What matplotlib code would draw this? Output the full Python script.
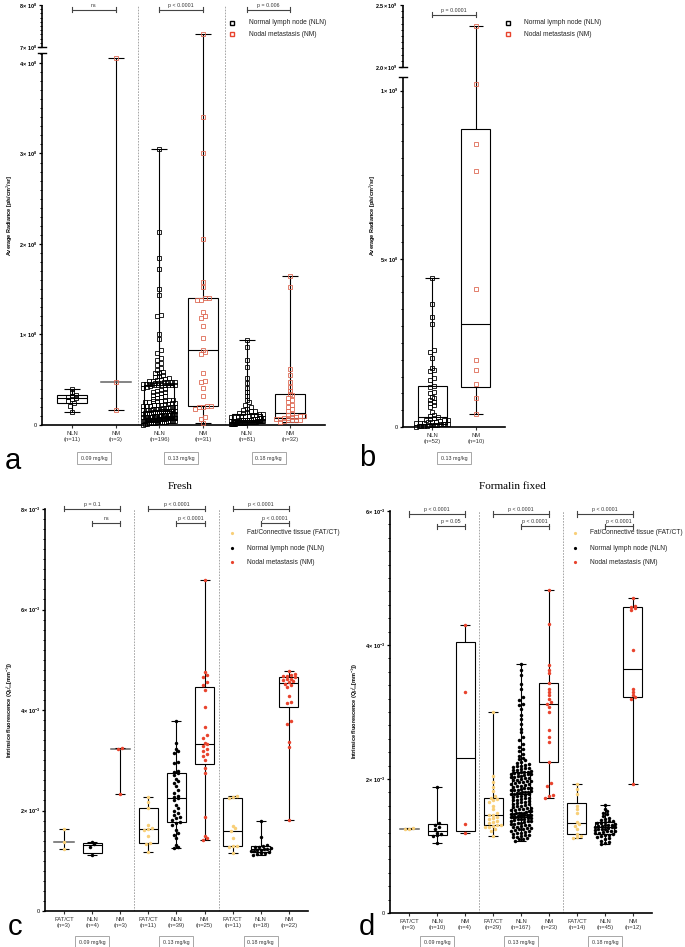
# box + scatter plots of radiance / intrinsic fluorescence per dose group (panels a-d)

import numpy as np
import matplotlib
matplotlib.use('Agg')
from matplotlib import pyplot as plt
from matplotlib.lines import Line2D
from matplotlib.patches import Rectangle

plt.rcParams['font.family'] = ['Liberation Sans', 'DejaVu Sans']
plt.rcParams['mathtext.fontset'] = 'custom'
plt.rcParams['mathtext.rm'] = 'Liberation Sans'
plt.rcParams['mathtext.it'] = 'Liberation Sans:italic'
plt.rcParams['mathtext.bf'] = 'Liberation Sans:bold'

# ***************************** panel a data (x 1e8 p/s/cm2/sr) *****************************
a_nln_009 = [0.14, 0.21, 0.24, 0.27, 0.29, 0.30, 0.31, 0.32, 0.33, 0.36, 0.40]
a_nm_009 = [0.17, 0.47, 4.06]
a_nln_013 = [3.05, 2.13, 1.84, 1.72, 1.50, 1.44, 1.22, 1.20, 1.00, 0.95,
             0.83, 0.80, 0.74, 0.72, 0.69, 0.66, 0.63, 0.61, 0.59, 0.58,
             0.57, 0.55, 0.54, 0.53, 0.52, 0.51, 0.50, 0.50, 0.49, 0.49,
             0.48, 0.48, 0.47, 0.47, 0.47, 0.46, 0.46, 0.46, 0.45, 0.45,
             0.45, 0.45, 0.44, 0.44, 0.44, 0.44, 0.44, 0.44, 0.44,
             0.43, 0.42, 0.41, 0.40, 0.39, 0.38, 0.37, 0.36, 0.35, 0.34,
             0.33, 0.32, 0.31, 0.30, 0.29, 0.28, 0.28, 0.27, 0.27, 0.26,
             0.26, 0.25, 0.25, 0.24, 0.24, 0.23, 0.23, 0.22, 0.22, 0.22,
             0.21, 0.21, 0.21, 0.20, 0.20, 0.20, 0.19, 0.19, 0.19, 0.18,
             0.18, 0.18, 0.18, 0.17, 0.17, 0.17, 0.17, 0.16, 0.16,
             0.16, 0.16, 0.155, 0.15, 0.15, 0.15, 0.145, 0.14, 0.14, 0.14,
             0.135, 0.13, 0.13, 0.13, 0.125, 0.12, 0.12, 0.12, 0.12, 0.115,
             0.11, 0.11, 0.11, 0.11, 0.105, 0.10, 0.10, 0.10, 0.10, 0.10,
             0.095, 0.095, 0.09, 0.09, 0.09, 0.09, 0.09, 0.085, 0.085, 0.085,
             0.085, 0.08, 0.08, 0.08, 0.08, 0.08, 0.08, 0.08, 0.08,
             0.075, 0.075, 0.075, 0.075, 0.07, 0.07, 0.07, 0.07, 0.07, 0.065,
             0.065, 0.065, 0.065, 0.06, 0.06, 0.06, 0.06, 0.06, 0.055, 0.055,
             0.055, 0.055, 0.05, 0.05, 0.05, 0.05, 0.05, 0.045, 0.045, 0.045,
             0.045, 0.04, 0.04, 0.04, 0.04, 0.04, 0.035, 0.035, 0.035, 0.03,
             0.03, 0.03, 0.025, 0.025, 0.02, 0.02, 0.015, 0.01, 0.005]
a_nm_013 = [7.30, 3.40, 3.00, 2.05, 1.58, 1.53, 1.40, 1.40, 1.38, 1.38,
            1.25, 1.20, 1.18, 1.09, 0.96, 0.83, 0.81, 0.78, 0.58, 0.49,
            0.47, 0.41, 0.32, 0.21, 0.21, 0.20, 0.20, 0.18, 0.09, 0.07, 0.02]
a_nln_018 = [0.94, 0.86, 0.72, 0.64, 0.52, 0.46, 0.41, 0.36, 0.32, 0.28,
             0.25, 0.22, 0.20, 0.18, 0.17, 0.16, 0.15, 0.14, 0.13, 0.13,
             0.12, 0.12, 0.11, 0.11, 0.10, 0.10, 0.095, 0.09, 0.09, 0.085,
             0.08, 0.08, 0.075, 0.07, 0.07, 0.065, 0.06, 0.06, 0.055, 0.055,
             0.05,
             0.05, 0.05, 0.048, 0.047, 0.046, 0.045, 0.044, 0.043, 0.042, 0.041,
             0.04, 0.04, 0.039, 0.038, 0.037, 0.036, 0.035, 0.034, 0.032, 0.031,
             0.03, 0.03, 0.029, 0.028, 0.027, 0.026, 0.025, 0.024, 0.023, 0.022,
             0.021, 0.02, 0.019, 0.018, 0.017, 0.016, 0.015, 0.013, 0.011, 0.009]
a_nm_018 = [1.65, 1.52, 0.62, 0.55, 0.48, 0.42, 0.38, 0.34, 0.33, 0.30,
            0.28, 0.25, 0.22, 0.20, 0.18, 0.15, 0.12, 0.11, 0.10, 0.10,
            0.09, 0.09, 0.08, 0.08, 0.07, 0.07, 0.06, 0.06, 0.05, 0.05,
            0.04, 0.03]
a_labels = ['NLN\n(n=11)', 'NM\n(n=3)', 'NLN\n(n=196)', 'NM\n(n=31)', 'NLN\n(n=81)', 'NM\n(n=32)']

# ***************************** panel b data (x 1e9) *****************************
b_nln = [0.443, 0.366, 0.327, 0.307, 0.229, 0.224, 0.206, 0.176, 0.17, 0.165,
         0.146, 0.14, 0.122, 0.118, 0.105, 0.10, 0.09, 0.085, 0.08, 0.075,
         0.07, 0.065, 0.06, 0.045, 0.035, 0.032, 0.03, 0.028, 0.025, 0.022,
         0.02, 0.02, 0.018, 0.016, 0.015, 0.014, 0.013, 0.012, 0.011, 0.01,
         0.01, 0.009, 0.008, 0.007, 0.006, 0.006, 0.005, 0.004, 0.004, 0.003,
         0.002, 0.001]
b_nm = [2.33, 1.02, 0.84, 0.76, 0.41, 0.20, 0.17, 0.128, 0.086, 0.039]
b_labels = ['NLN\n(n=52)', 'NM\n(n=10)']

# ***************************** panel c data, fresh (x 1e-3) *****************************
c_fat_009 = [1.23, 1.38, 1.64]
c_nln_009 = [1.11, 1.28, 1.33, 1.37]
c_nm_009 = [2.33, 3.22, 3.25]
c_fat_013 = [1.17, 1.33, 1.35, 1.50, 1.61, 1.63, 1.65, 1.71, 2.05, 2.17, 2.27]
c_nln_013 = [3.78, 3.35, 3.22, 3.18, 3.15, 2.97, 2.95, 2.78, 2.77, 2.75,
             2.70, 2.62, 2.58, 2.55, 2.48, 2.40, 2.35, 2.28, 2.27, 2.25,
             2.20, 2.10, 2.05, 2.00, 1.95, 1.92, 1.88, 1.85, 1.82, 1.78,
             1.75, 1.72, 1.62, 1.55, 1.52, 1.45, 1.32, 1.28, 1.25]
c_nm_013 = [6.58, 4.75, 4.70, 4.65, 4.55, 4.50, 4.40, 4.06, 3.66, 3.50,
            3.45, 3.35, 3.32, 3.28, 3.22, 3.18, 3.12, 3.08, 3.00, 2.85,
            2.74, 1.87, 1.50, 1.45, 1.42]
c_fat_018 = [1.15, 1.28, 1.29, 1.30, 1.45, 1.60, 1.65, 1.70, 2.25, 2.27, 2.29]
c_nln_018 = [1.12, 1.14, 1.15, 1.16, 1.18, 1.19, 1.20, 1.21, 1.22, 1.23,
             1.24, 1.25, 1.27, 1.28, 1.30, 1.32, 1.47, 1.79]
c_nm_018 = [4.77, 4.72, 4.70, 4.68, 4.67, 4.65, 4.62, 4.62, 4.60, 4.58,
            4.55, 4.52, 4.50, 4.45, 4.27, 4.16, 4.14, 3.78, 3.73, 3.36,
            3.27, 1.81]
c_labels = ['FAT/CT\n(n=3)', 'NLN\n(n=4)', 'NM\n(n=3)', 'FAT/CT\n(n=11)', 'NLN\n(n=39)',
            'NM\n(n=25)', 'FAT/CT\n(n=11)', 'NLN\n(n=18)', 'NM\n(n=22)']

# ***************************** panel d data, formalin fixed (x 1e-3) *****************************
d_fat_009 = [1.25, 1.26, 1.27]
d_nln_009 = [1.05, 1.15, 1.17, 1.18, 1.20, 1.25, 1.28, 1.32, 1.34, 1.88]
d_nm_009 = [1.19, 1.33, 3.30, 4.30]
d_fat_013 = [3.00, 2.04, 1.95, 1.88, 1.82, 1.75, 1.72, 1.70, 1.68, 1.66,
             1.60, 1.55, 1.50, 1.47, 1.46, 1.44, 1.42, 1.40, 1.38, 1.36,
             1.34, 1.32, 1.31, 1.30, 1.29, 1.28, 1.25, 1.22, 1.15]
d_nln_013 = [3.72, 3.62, 3.55, 3.42, 3.35, 3.22, 3.18, 3.12, 3.10, 3.05,
             2.95, 2.90, 2.82, 2.75, 2.70, 2.62, 2.58, 2.52, 2.48, 2.45,
             2.42, 2.38, 2.35, 2.32, 2.30, 2.28, 2.26, 2.24, 2.22, 2.21,
             2.20, 2.19, 2.18, 2.17, 2.16, 2.15, 2.14, 2.13, 2.12, 2.11, 2.11,
             2.10, 2.09, 2.09, 2.08, 2.07, 2.07, 2.06, 2.05, 2.04, 2.03,
             2.03, 2.02, 2.01, 2.00, 1.99, 1.98, 1.97, 1.97, 1.96, 1.95,
             1.94, 1.93, 1.92, 1.91, 1.90, 1.89, 1.88, 1.87, 1.86, 1.86,
             1.85, 1.84, 1.83, 1.83, 1.82, 1.81, 1.80, 1.80, 1.79, 1.79,
             1.78, 1.78,
             1.77, 1.76, 1.75, 1.74, 1.73, 1.72, 1.71, 1.70, 1.69, 1.68,
             1.67, 1.66, 1.65, 1.64, 1.63, 1.62, 1.61, 1.60, 1.59, 1.58,
             1.57, 1.56, 1.55, 1.55, 1.54, 1.53, 1.52, 1.52, 1.51, 1.50,
             1.50, 1.49, 1.49, 1.48, 1.48, 1.47, 1.47, 1.46, 1.46, 1.46,
             1.45, 1.45,
             1.44, 1.44, 1.43, 1.42, 1.42, 1.41, 1.40, 1.40, 1.39, 1.38,
             1.37, 1.37, 1.36, 1.35, 1.34, 1.33, 1.33, 1.32, 1.31, 1.30,
             1.29, 1.28, 1.27, 1.27, 1.26, 1.25, 1.24, 1.23, 1.22, 1.21,
             1.20, 1.19, 1.18, 1.17, 1.16, 1.15, 1.14, 1.13, 1.12, 1.11,
             1.10, 1.08]
d_nm_013 = [4.82, 4.31, 3.70, 3.63, 3.58, 3.43, 3.35, 3.30, 3.25, 3.20,
            3.15, 3.12, 3.07, 3.00, 2.73, 2.63, 2.55, 2.25, 1.94, 1.90,
            1.76, 1.74, 1.72]
d_fat_018 = [1.93, 1.85, 1.78, 1.60, 1.55, 1.50, 1.36, 1.33, 1.30, 1.25,
             1.18, 1.15, 1.14, 1.12]
d_nln_018 = [1.61, 1.55, 1.52, 1.50, 1.48, 1.45, 1.42, 1.40, 1.39, 1.38,
             1.37, 1.36, 1.35, 1.34, 1.33, 1.32, 1.31, 1.31, 1.30, 1.30,
             1.29, 1.28, 1.28, 1.27, 1.26, 1.25, 1.25, 1.24, 1.23, 1.22,
             1.22, 1.21, 1.20, 1.19, 1.18, 1.17, 1.16, 1.15, 1.14, 1.12,
             1.10, 1.08, 1.06, 1.04, 1.03]
d_nm_018 = [4.70, 4.58, 4.57, 4.55, 4.52, 3.93, 3.35, 3.30, 3.25, 3.22, 3.20, 1.93]
d_labels = ['FAT/CT\n(n=3)', 'NLN\n(n=10)', 'NM\n(n=4)', 'FAT/CT\n(n=29)', 'NLN\n(n=167)',
            'NM\n(n=23)', 'FAT/CT\n(n=14)', 'NLN\n(n=45)', 'NM\n(n=12)']

doses = ['0.09 mg/kg', '0.13 mg/kg', '0.18 mg/kg']

# colours
col_nln = 'black'
col_nm_sq = '#de6a55'
col_nm = '#e8432d'
col_fat = '#f8cf78'

W, H = 685, 947
fig = plt.figure(figsize=(W / 100, H / 100), dpi=100)


def fx(x):
    return x / W


def fy(y):
    return 1 - y / H


def add_ax(l, t, r, b):
    ax = fig.add_axes([l / W, 1 - b / H, (r - l) / W, (b - t) / H])
    ax.spines['top'].set_visible(False)
    ax.spines['right'].set_visible(False)
    ax.spines['left'].set_linewidth(1.2)
    ax.spines['bottom'].set_linewidth(1.2)
    ax.tick_params(axis='y', which='major', length=2.5, width=0.9, labelsize=4, pad=1)
    ax.tick_params(axis='y', which='minor', length=1.5, width=0.7)
    ax.tick_params(axis='x', length=2.2, width=0.8, labelsize=4.2, pad=2, colors='#333')
    return ax


def make_break(lo, hi, gap, k):
    # piecewise linear y scale: [0, lo] normal, (lo, hi) squeezed into gap, [hi, ...] with slope k
    def fwd(y):
        y = np.asarray(y, dtype=float)
        return np.where(y <= lo, y, np.where(y <= hi, lo + (y - lo) / (hi - lo) * gap, lo + gap + (y - hi) * k))

    def inv(u):
        u = np.asarray(u, dtype=float)
        return np.where(u <= lo, u, np.where(u <= lo + gap, lo + (u - lo) / gap * (hi - lo), hi + (u - lo - gap) / k))
    return fwd, inv


def broken_spine(ax, lo, hi, top, width_px):
    ax.spines['left'].set_visible(False)
    tr = ax.get_yaxis_transform()
    h = 4.0 / width_px
    ax.plot([0, 0], [0, lo], transform=tr, color='k', lw=1.2, clip_on=False, solid_capstyle='butt')
    ax.plot([0, 0], [hi, top], transform=tr, color='k', lw=1.2, clip_on=False, solid_capstyle='butt')
    for y in [lo, hi]:
        ax.plot([-h, h], [y, y], transform=tr, color='k', lw=1.0, clip_on=False)


def draw_box(ax, x, vals, bw, cw, lw=0.8):
    v = np.asarray(vals, dtype=float)
    lo, hi, med = v.min(), v.max(), np.median(v)
    kw = dict(color='k', lw=lw, zorder=2, solid_capstyle='butt')
    if len(v) <= 3:
        ax.plot([x, x], [lo, hi], **kw)
        ax.plot([x - bw / 2, x + bw / 2], [med, med], color='#666', lw=lw * 1.4, zorder=2)
    else:
        q1, q3 = np.percentile(v, [25, 75], method='weibull')
        ax.add_patch(Rectangle((x - bw / 2, q1), bw, q3 - q1, fill=False, ec='k', lw=lw, zorder=2))
        ax.plot([x - bw / 2, x + bw / 2], [med, med], **kw)
        ax.plot([x, x], [q3, hi], **kw)
        ax.plot([x, x], [lo, q1], **kw)
    ax.plot([x - cw / 2, x + cw / 2], [hi, hi], **kw)
    ax.plot([x - cw / 2, x + cw / 2], [lo, lo], **kw)


def swarm(ax, x, vals, row_px, step_px, max_px):
    # spread points sideways in rows, like a column scatter
    v = np.asarray(vals, dtype=float)
    pts = ax.transData.transform(np.column_stack([np.full(len(v), float(x)), v]))
    order = np.argsort(pts[:, 1])
    offs = np.zeros(len(v))
    i = 0
    while i < len(order):
        j = i
        while j + 1 < len(order) and pts[order[j + 1], 1] - pts[order[i], 1] < row_px:
            j += 1
        k = j - i + 1
        w = min((k - 1) * step_px, max_px)
        offs[order[i:j + 1]] = np.linspace(-w / 2, w / 2, k) if k > 1 else 0.0
        i = j + 1
    pts[:, 0] += offs
    return ax.transData.inverted().transform(pts)[:, 0]


def plot_group(ax, x, vals, color, square, bw, cw, max_px):
    draw_box(ax, x, vals, bw, cw)
    xs = swarm(ax, x, vals, 3.2, 4.0, max_px)
    if square:
        ax.plot(xs, vals, ls='none', marker='s', ms=2.8, mfc='none', mec=color, mew=0.6,
                zorder=3, clip_on=False)
    else:
        ax.plot(xs, vals, ls='none', marker='o', ms=2.5, mfc=color, mec='none',
                zorder=3, clip_on=False)


def bracket(ax, x1, x2, y_px, top, bot, txt):
    tr = ax.get_xaxis_transform()
    span = bot - top
    yf = (bot - y_px) / span
    t = 2.5 / span
    ax.plot([x1, x2], [yf, yf], transform=tr, color='#444', lw=0.8, clip_on=False)
    ax.plot([x1, x1], [yf - t, yf + t], transform=tr, color='#444', lw=0.8, clip_on=False)
    ax.plot([x2, x2], [yf - t, yf + t], transform=tr, color='#444', lw=0.8, clip_on=False)
    ax.text((x1 + x2) / 2, yf + 2.0 / span, txt, transform=tr, ha='center', va='bottom',
            fontsize=3.8, color='#333')


def legend_row(xm, xt, y, color, label, square):
    if square:
        fig.add_artist(Line2D([fx(xm)], [fy(y)], transform=fig.transFigure, marker='s', ms=2.8,
                              mfc='none', mec=color, mew=1.0, ls='none'))
    else:
        fig.add_artist(Line2D([fx(xm)], [fy(y)], transform=fig.transFigure, marker='o', ms=2.3,
                              mfc=color, mec='none', ls='none'))
    fig.text(fx(xt), fy(y), label, ha='left', va='center', fontsize=4.8, color='#222')


def dose_box(x, y, txt):
    fig.text(fx(x), fy(y), txt, ha='center', va='center', fontsize=3.8, color='#333',
             bbox=dict(boxstyle='square,pad=0.7', fc='white', ec='#999', lw=0.6))


def sep_lines(ax, xs):
    for x in xs:
        ax.axvline(x, color='#999', lw=0.6, ls=(0, (2, 1.5)), zorder=1)


def sci(m, e):
    return r'$\mathbf{%s\times10^{%s}}$' % (m, e)


# ***************************** panel a *****************************
ax = add_ax(42, 5, 325, 425)
fwd, inv = make_break(4.11, 7.0, 6 / 90.5, 42 / 90.5)
ax.set_yscale('function', functions=(fwd, inv))
ax.set_ylim(0, 8)
ax.set_xlim(-0.686, 5.79)
ax.set_yticks([0, 1, 2, 3, 4, 7, 8], ['0', sci(1, 8), sci(2, 8), sci(3, 8), sci(4, 8), sci(7, 8), sci(8, 8)])
ax.set_yticks([v / 10 for v in range(0, 42)] + [7 + v / 10 for v in range(0, 11)], minor=True)
broken_spine(ax, 4.11, 7.0, 8, 283)
ax.set_xticks(range(6), a_labels)
sep_lines(ax, [1.5, 3.5])
groups_a = [(a_nln_009, col_nln), (a_nm_009, col_nm_sq), (a_nln_013, col_nln),
            (a_nm_013, col_nm_sq), (a_nln_018, col_nln), (a_nm_018, col_nm_sq)]
for i, (vals, col) in enumerate(groups_a):
    plot_group(ax, i, vals, col, True, 30 / 43.7, 16 / 43.7, 32)
bracket(ax, 0, 1, 10, 5, 425, 'ns')
bracket(ax, 2, 3, 10, 5, 425, 'p < 0.0001')
bracket(ax, 4, 5, 10, 5, 425, 'p = 0.006')
legend_row(232, 249, 23, col_nln, 'Normal lymph node (NLN)', True)
legend_row(232, 249, 34, col_nm, 'Nodal metastasis (NM)', True)
fig.text(fx(10), fy(215), 'Average Radiance [p/s/cm$^2$/sr]', rotation=90, ha='center', va='center',
         fontsize=4, fontweight='bold')
for i, d in enumerate(doses):
    dose_box(72 + 43.7 * (2 * i + 0.5), 458, d)
fig.text(fx(13), fy(461), 'a', fontsize=21, ha='center', va='center')

# ***************************** panel b *****************************
ax = add_ax(403, 5, 505, 427)
fwd, inv = make_break(1.04, 2.0, 10 / 336, 124 / 336)
ax.set_yscale('function', functions=(fwd, inv))
ax.set_ylim(0, 2.5)
ax.set_xlim(-0.66, 1.66)
ax.set_yticks([0, 0.5, 1, 2.0, 2.5], ['0', sci(5, 8), sci(1, 9), sci('2.0', 9), sci('2.5', 9)])
ax.set_yticks([v / 20 for v in range(0, 21)] + [2 + v / 20 for v in range(0, 11)], minor=True)
broken_spine(ax, 1.04, 2.0, 2.5, 102)
ax.set_xticks(range(2), b_labels)
plot_group(ax, 0, b_nln, col_nln, True, 29 / 44, 14 / 44, 32)
plot_group(ax, 1, b_nm, col_nm_sq, True, 29 / 44, 14 / 44, 32)
bracket(ax, 0, 1, 15, 5, 427, 'p = 0.0001')
legend_row(508, 524, 23, col_nln, 'Normal lymph node (NLN)', True)
legend_row(508, 524, 34, col_nm, 'Nodal metastasis (NM)', True)
fig.text(fx(373), fy(215), 'Average Radiance [p/s/cm$^2$/sr]', rotation=90, ha='center', va='center',
         fontsize=4, fontweight='bold')
dose_box(454, 458, doses[1])
fig.text(fx(367), fy(458), 'b', fontsize=21, ha='center', va='center')

# ***************************** panel c *****************************
ax = add_ax(45, 509, 308, 911)
ax.set_ylim(0, 8)
ax.set_xlim(-0.676, 8.68)
ax.set_yticks([0, 2, 4, 6, 8], ['0', sci(2, '-3'), sci(4, '-3'), sci(6, '-3'), sci(8, '-3')])
ax.set_yticks([v / 5 for v in range(0, 41)], minor=True)
ax.set_xticks(range(9), c_labels)
sep_lines(ax, [2.5, 5.5])
groups_c = [c_fat_009, c_nln_009, c_nm_009, c_fat_013, c_nln_013, c_nm_013, c_fat_018, c_nln_018, c_nm_018]
cols = [col_fat, col_nln, col_nm] * 3
for i, vals in enumerate(groups_c):
    plot_group(ax, i, vals, cols[i], False, 19 / 28.1, 10 / 28.1, 20)
for g, (p1, p2) in enumerate([('p = 0.1', 'ns'), ('p < 0.0001', 'p < 0.0001'), ('p < 0.0001', 'p < 0.0001')]):
    bracket(ax, 3 * g, 3 * g + 2, 509, 509, 911, p1)
    bracket(ax, 3 * g + 1, 3 * g + 2, 523, 509, 911, p2)
legend_row(232, 247, 533, col_fat, 'Fat/Connective tissue (FAT/CT)', False)
legend_row(232, 247, 548, col_nln, 'Normal lymph node (NLN)', False)
legend_row(232, 247, 562, col_nm, 'Nodal metastasis (NM)', False)
fig.text(fx(10), fy(710), r'Intrinsice fluorescence (Q$\mu^{f}_{xx}$[mm$^{-1}$])', rotation=90,
         ha='center', va='center', fontsize=4, fontweight='bold')
fig.text(fx(180), fy(486), 'Fresh', family='Liberation Serif', fontsize=8, ha='center', va='center')
for i, d in enumerate(doses):
    dose_box(64 + 28.1 * (3 * i + 1), 942, d)
fig.text(fx(15), fy(927), 'c', fontsize=21, ha='center', va='center')

# ***************************** panel d *****************************
ax = add_ax(390, 511, 652, 913)
ax.set_ylim(0, 6)
ax.set_xlim(-0.68, 8.68)
ax.set_yticks([0, 2, 4, 6], ['0', sci(2, '-3'), sci(4, '-3'), sci(6, '-3')])
ax.set_yticks([v / 5 for v in range(0, 31)], minor=True)
ax.set_xticks(range(9), d_labels)
sep_lines(ax, [2.5, 5.5])
groups_d = [d_fat_009, d_nln_009, d_nm_009, d_fat_013, d_nln_013, d_nm_013, d_fat_018, d_nln_018, d_nm_018]
for i, vals in enumerate(groups_d):
    plot_group(ax, i, vals, cols[i], False, 19 / 28, 10 / 28, 20)
for g, (p1, p2) in enumerate([('p < 0.0001', 'p = 0.05'), ('p < 0.0001', 'p < 0.0001'), ('p < 0.0001', 'p < 0.0001')]):
    bracket(ax, 3 * g, 3 * g + 2, 514, 511, 913, p1)
    bracket(ax, 3 * g + 1, 3 * g + 2, 526, 511, 913, p2)
legend_row(575, 590, 533, col_fat, 'Fat/Connective tissue (FAT/CT)', False)
legend_row(575, 590, 548, col_nln, 'Normal lymph node (NLN)', False)
legend_row(575, 590, 562, col_nm, 'Nodal metastasis (NM)', False)
fig.text(fx(355), fy(711), r'Intrinsice fluorescence (Q$\mu^{f}_{xx}$[mm$^{-1}$])', rotation=90,
         ha='center', va='center', fontsize=4, fontweight='bold')
fig.text(fx(512), fy(486), 'Formalin fixed', family='Liberation Serif', fontsize=8, ha='center', va='center')
for i, d in enumerate(doses):
    dose_box(409 + 28 * (3 * i + 1), 942, d)
fig.text(fx(367), fy(927), 'd', fontsize=21, ha='center', va='center')

fig.savefig('out.png', dpi=100)
